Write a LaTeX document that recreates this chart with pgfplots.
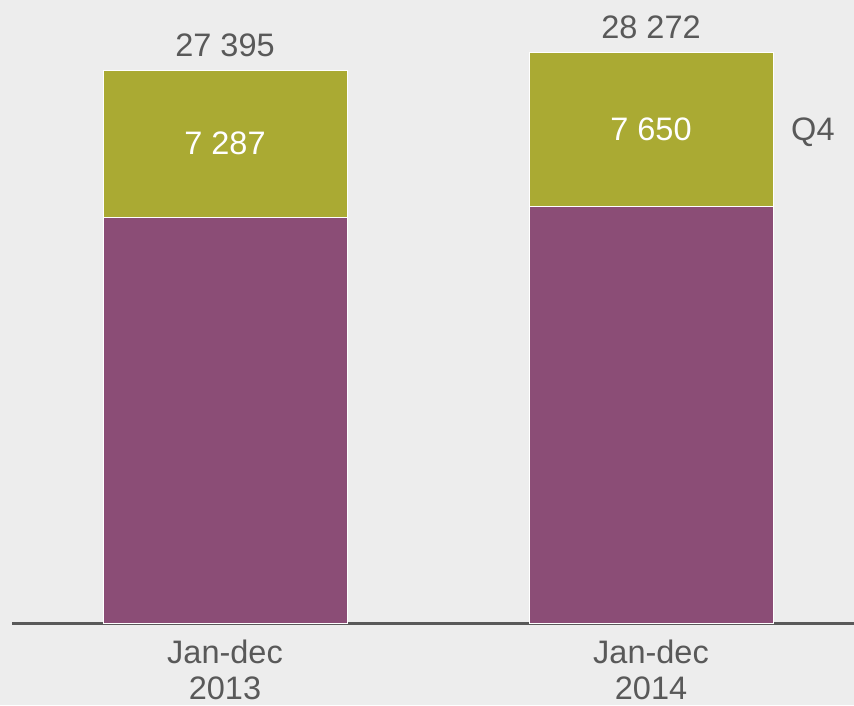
\documentclass[border=0pt]{standalone}
\usepackage{pgfplots}
\pgfplotsset{compat=1.18}
\usepackage{fontspec}
\setmainfont{Liberation Sans}
\usetikzlibrary{calc}
\definecolor{bg}{HTML}{EDEDED}
\definecolor{purp}{HTML}{8B4D76}
\definecolor{olive}{HTML}{AAAA33}
\definecolor{txt}{HTML}{595959}
\pgfdeclarelayer{background}
\pgfsetlayers{background,main}
\begin{document}
\begin{tikzpicture}
\begin{axis}[
 scale only axis, width=842pt, height=623pt,
 xmin=-0.5, xmax=1.4765, ymin=0, ymax=30863,
 ybar stacked, bar width=244pt,
 axis x line*=bottom, axis y line=none,
 x axis line style={draw=txt, line width=3pt, -},
 xtick={0,1}, xticklabels={{Jan-dec\\2013},{Jan-dec\\2014}},
 major tick length=0pt,
 xticklabel style={align=center, font=\fontsize{32.5}{36}\selectfont, text=txt, inner sep=0pt, yshift=-17pt},
 ytick=\empty,
 clip=false,
]
\addplot[fill=purp, draw=white, line width=1pt] coordinates {(0,20108) (1,20622)};
\addplot[fill=olive, draw=white, line width=1pt] coordinates {(0,7287) (1,7650)};
\coordinate (t0) at (axis cs:0,27395);
\coordinate (t1) at (axis cs:1,28272);
\coordinate (q0) at (axis cs:0,23751.5);
\coordinate (q1) at (axis cs:1,24447);
\coordinate (ql) at (axis cs:1.38,24447);
\coordinate (bl) at (rel axis cs:0,0);
\coordinate (tr) at (rel axis cs:1,1);
\end{axis}
\begin{scope}[every node/.style={font=\fontsize{32.5}{38}\selectfont}]
\node[text=txt, anchor=base, yshift=14pt] at (t0) {27 395};
\node[text=txt, anchor=base, yshift=14pt] at (t1) {28 272};
\node[text=white, anchor=center] at (q0) {7 287};
\node[text=white, anchor=center] at (q1) {7 650};
\node[text=txt, anchor=center, yshift=-3pt] at (ql) {Q4};
\end{scope}
\begin{pgfonlayer}{background}
\fill[bg] ($(bl)+(-12pt,-82pt)$) rectangle (tr);
\end{pgfonlayer}
\pgfresetboundingbox
\path ($(bl)+(-12pt,-82pt)$) rectangle (tr);
\end{tikzpicture}
\end{document}
